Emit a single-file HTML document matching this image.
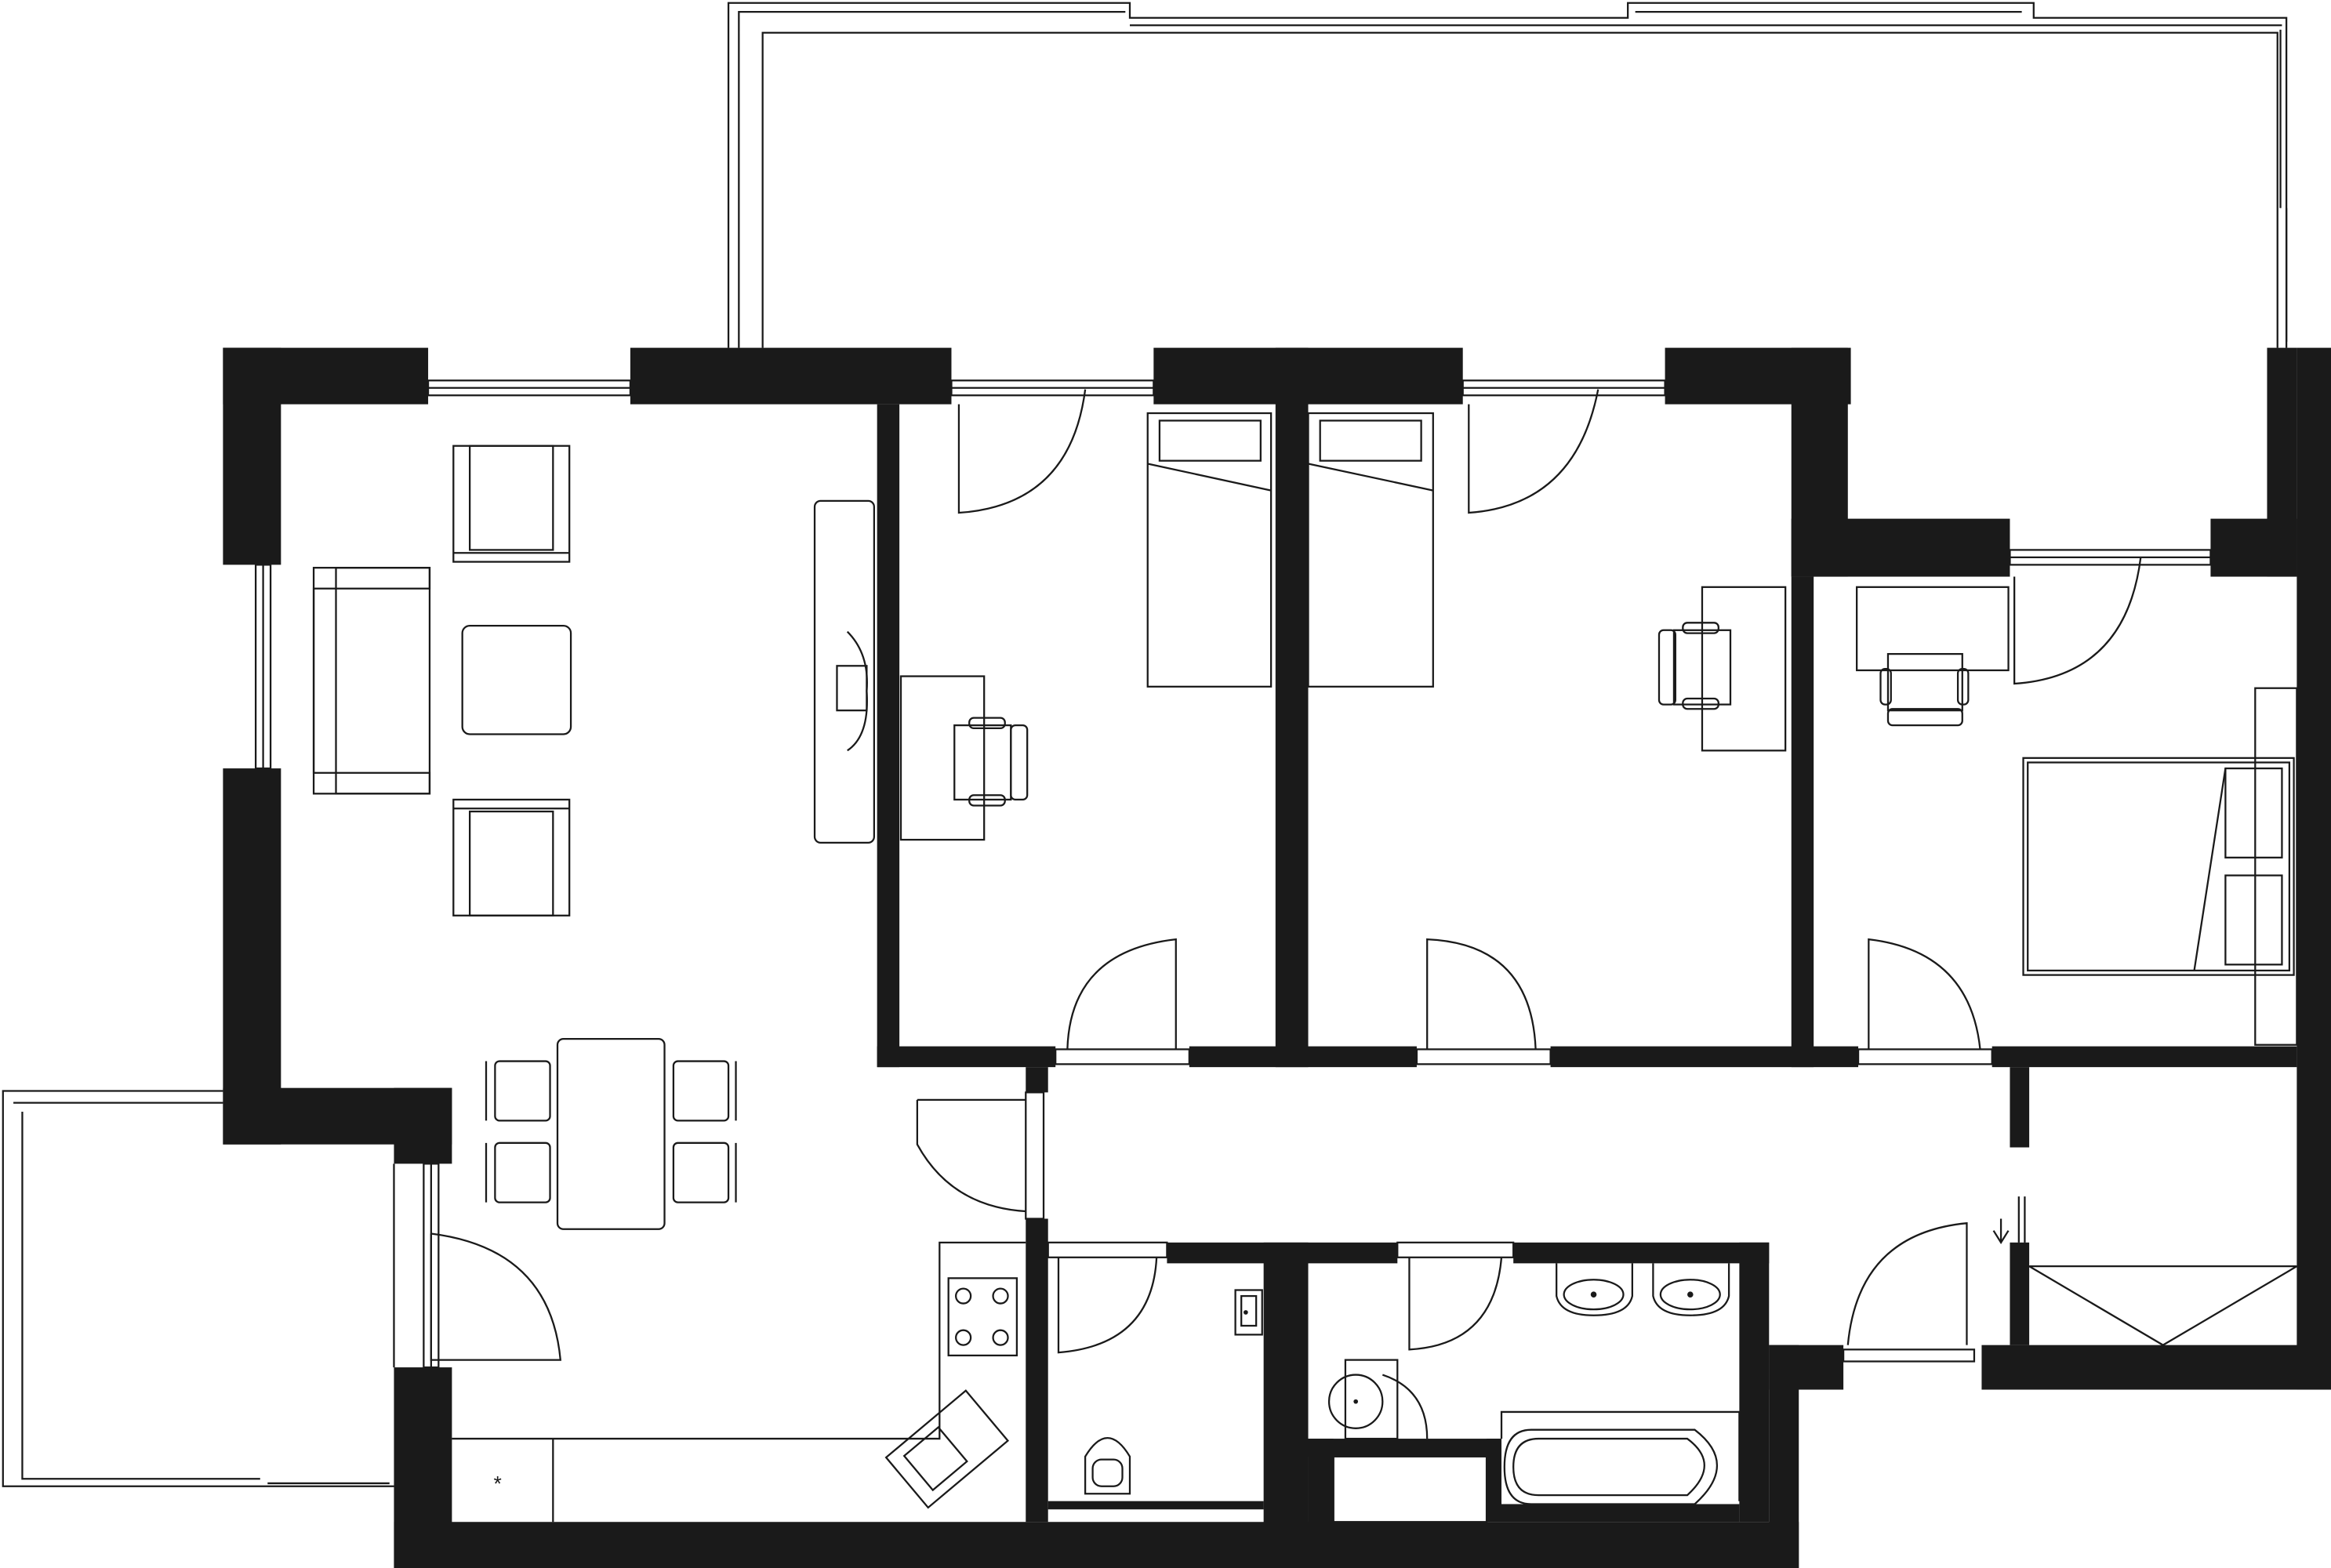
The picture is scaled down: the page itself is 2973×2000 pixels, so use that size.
<!DOCTYPE html>
<html><head><meta charset="utf-8"><style>html,body{margin:0;padding:0;background:#fff}svg{display:block}</style></head>
<body>
<svg width="2973" height="2000" viewBox="0 0 1568 1055" preserveAspectRatio="none" xmlns="http://www.w3.org/2000/svg">
<g fill="none" stroke="#1a1a1a" stroke-width="1.2">
<!-- top balcony -->
<path d="M490 234 V2 H760 V12 H1095 V2 H1368 V12 H1538 V234"/>
<path d="M497 234 V8 H757 M513 234 V22 H1532 V234 M760 17 H1535 M1100 8 H1360"/>
<path d="M1534 20 V140 M1538 140 V230"/>
<!-- left balcony -->
<path d="M150 734 H2 V1000 H265 M9 742 H150 M15 748 V995 H175 M180 998 H262"/>
<!-- windows -->
<rect x="288" y="256" width="136" height="10"/><line x1="288" y1="261" x2="424" y2="261"/>
<rect x="640" y="256" width="136" height="10"/><line x1="640" y1="261" x2="776" y2="261"/>
<rect x="984" y="256" width="136" height="10"/><line x1="984" y1="261" x2="1120" y2="261"/>
<rect x="1352" y="370" width="135" height="10"/><line x1="1352" y1="375" x2="1487" y2="375"/>
<rect x="172" y="380" width="10" height="137"/><line x1="177" y1="380" x2="177" y2="517"/>
<rect x="285" y="783" width="10" height="137"/><line x1="290" y1="783" x2="290" y2="920"/>
<line x1="265" y1="783" x2="265" y2="920"/>
<!-- doors -->
<rect x="710" y="706" width="90" height="10"/><rect x="953" y="706" width="90" height="10"/><rect x="1250" y="706" width="90" height="10"/>
<rect x="690" y="735" width="12" height="85"/><rect x="705" y="836" width="80" height="10"/><rect x="940" y="836" width="78" height="10"/><rect x="1240" y="908" width="88" height="8"/>
<path d="M645 272 V345 Q720 340 730 262"/>
<path d="M988 272 V345 Q1060 340 1075 262"/>
<path d="M1355 388 V460 Q1430 455 1440 375"/>
<path d="M791 706 V632 Q720 640 718 706"/>
<path d="M960 706 V632 Q1030 635 1033 706"/>
<path d="M1257 706 V632 Q1325 640 1332 706"/>
<path d="M617 740 H690 M617 740 V770 Q640 812 690 815"/>
<path d="M290 830 V915 H377 Q370 840 290 830"/>
<path d="M712 846 V910 Q775 905 778 846"/>
<path d="M948 846 V908 Q1005 905 1010 846"/>
<path d="M1323 905 V823 Q1250 830 1243 905"/>
<path d="M1358 805 V836 M1362 805 V836 M1346 820 L1346 836 M1341 828 L1346 836 L1351 828"/>
<!-- living -->
<rect x="305" y="300" width="78" height="78"/><rect x="316" y="300" width="56" height="70"/><line x1="305" y1="372" x2="383" y2="372"/>
<rect x="305" y="538" width="78" height="78"/><rect x="316" y="546" width="56" height="70"/><line x1="305" y1="544" x2="383" y2="544"/>
<rect x="211" y="382" width="78" height="152"/><rect x="211" y="396" width="15" height="124"/><rect x="226" y="382" width="63" height="14"/><rect x="226" y="520" width="63" height="14"/>
<rect x="311" y="421" width="73" height="73" rx="5"/>
<rect x="548" y="337" width="40" height="230" rx="4"/><rect x="563" y="448" width="20" height="30"/><path d="M570 425 Q585 440 583 465 Q585 495 570 505"/>
<!-- dining -->
<rect x="375" y="699" width="72" height="128" rx="4"/>
<rect x="333" y="714" width="37" height="40" rx="3"/><rect x="333" y="769" width="37" height="40" rx="3"/>
<rect x="453" y="714" width="37" height="40" rx="3"/><rect x="453" y="769" width="37" height="40" rx="3"/>
<line x1="327" y1="714" x2="327" y2="754"/><line x1="327" y1="769" x2="327" y2="809"/><line x1="495" y1="714" x2="495" y2="754"/><line x1="495" y1="769" x2="495" y2="809"/>
<!-- kitchen -->
<path d="M304 968 H632 V836 H690 M372 968 V1024"/>
<rect x="638" y="860" width="46" height="52"/>
<circle cx="648" cy="872" r="5"/><circle cx="673" cy="872" r="5"/><circle cx="648" cy="900" r="5"/><circle cx="673" cy="900" r="5"/>
<g transform="translate(637 975) rotate(-40)"><rect x="-35" y="-22" width="70" height="44"/><rect x="-25" y="-15" width="30" height="30"/></g>
<text x="332" y="1003" font-size="14" font-family="Liberation Sans, sans-serif" fill="#1a1a1a" stroke="none">*</text>
<!-- bedroom 1 -->
<rect x="772" y="278" width="83" height="184"/><rect x="780" y="283" width="68" height="27"/><line x1="772" y1="312" x2="855" y2="330"/>
<rect x="606" y="455" width="56" height="110"/><rect x="642" y="488" width="38" height="50"/><rect x="680" y="488" width="11" height="50" rx="3"/><rect x="652" y="483" width="24" height="7" rx="3"/><rect x="652" y="535" width="24" height="7" rx="3"/>
<!-- bedroom 2 -->
<rect x="880" y="278" width="84" height="184"/><rect x="888" y="283" width="68" height="27"/><line x1="880" y1="312" x2="964" y2="330"/>
<rect x="1145" y="395" width="56" height="110"/><rect x="1126" y="424" width="38" height="50"/><rect x="1116" y="424" width="11" height="50" rx="3"/><rect x="1132" y="419" width="24" height="7" rx="3"/><rect x="1132" y="470" width="24" height="7" rx="3"/>
<!-- master -->
<rect x="1249" y="395" width="102" height="56"/><rect x="1270" y="440" width="50" height="38"/><rect x="1270" y="477" width="50" height="11" rx="3"/><rect x="1265" y="450" width="7" height="24" rx="3"/><rect x="1317" y="450" width="7" height="24" rx="3"/>
<rect x="1361" y="510" width="182" height="146"/><rect x="1364" y="513" width="176" height="140"/><rect x="1497" y="517" width="38" height="60"/><rect x="1497" y="589" width="38" height="60"/><line x1="1497" y1="517" x2="1476" y2="653"/>
<rect x="1517" y="463" width="28" height="240"/>
<!-- storage -->
<path d="M1365 852 H1545 M1365 852 L1455 905 L1545 852"/>
<!-- wc -->
<rect x="831" y="868" width="18" height="30"/><rect x="835" y="872" width="10" height="20"/>
<path d="M730 1005 V980 Q745 955 760 980 V1005 Z"/><rect x="735" y="982" width="20" height="18" rx="6"/>
<line x1="705" y1="1015" x2="850" y2="1015"/>
<!-- bath -->
<rect x="905" y="915" width="35" height="53"/><circle cx="912" cy="943" r="18"/><path d="M930 925 Q960 935 960 968"/>
<path d="M1047 850 V872 Q1050 885 1072 885 Q1095 885 1098 872 V850"/><ellipse cx="1072" cy="871" rx="20" ry="10"/>
<path d="M1112 850 V872 Q1115 885 1137 885 Q1160 885 1163 872 V850"/><ellipse cx="1137" cy="871" rx="20" ry="10"/>
<path d="M1010 968 V950 H1170 V1010"/>
<path d="M1030 962 H1140 Q1170 985 1140 1012 H1030 Q1012 1012 1012 987 Q1012 962 1030 962Z"/>
<path d="M1035 968 H1135 Q1158 985 1135 1006 H1035 Q1018 1006 1018 987 Q1018 968 1035 968Z"/>
<rect x="897" y="980" width="103" height="44"/>
</g>
<g fill="#1a1a1a" stroke="none">
<circle cx="912" cy="943" r="1.5"/><circle cx="1072" cy="871" r="2"/><circle cx="1137" cy="871" r="2"/><circle cx="838" cy="883" r="1.5"/>
<rect x="150" y="234" width="138" height="38"/><rect x="150" y="234" width="39" height="146"/>
<rect x="424" y="234" width="216" height="38"/>
<rect x="776" y="234" width="208" height="38"/>
<rect x="1120" y="234" width="125" height="38"/>
<rect x="1205" y="234" width="38" height="154"/>
<rect x="1205" y="349" width="147" height="39"/>
<rect x="1487" y="349" width="58" height="39"/>
<rect x="1525" y="234" width="20" height="154"/>
<rect x="1545" y="234" width="23" height="701"/>
<rect x="150" y="517" width="39" height="253"/>
<rect x="150" y="732" width="154" height="38"/>
<rect x="265" y="732" width="39" height="51"/>
<rect x="265" y="920" width="39" height="135"/>
<rect x="265" y="1024" width="945" height="31"/>
<rect x="590" y="272" width="15" height="446"/>
<rect x="858" y="234" width="22" height="484"/>
<rect x="1205" y="388" width="15" height="330"/>
<rect x="590" y="704" width="120" height="14"/><rect x="800" y="704" width="153" height="14"/><rect x="1043" y="704" width="207" height="14"/><rect x="1340" y="704" width="205" height="14"/>
<rect x="690" y="718" width="15" height="17"/><rect x="690" y="820" width="15" height="204"/>
<rect x="705" y="836" width="0" height="0"/>
<rect x="785" y="836" width="155" height="14"/><rect x="1018" y="836" width="172" height="14"/>
<rect x="850" y="836" width="30" height="219"/>
<rect x="1170" y="836" width="20" height="188"/>
<rect x="1190" y="905" width="50" height="30"/><rect x="1190" y="905" width="20" height="150"/>
<rect x="1333" y="905" width="235" height="30"/>
<rect x="1352" y="718" width="13" height="54"/><rect x="1352" y="836" width="13" height="69"/>
<rect x="880" y="968" width="130" height="12"/><rect x="1000" y="968" width="10" height="56"/><rect x="880" y="968" width="17" height="87"/>
<rect x="705" y="1010" width="145" height="5"/>
<rect x="1010" y="1012" width="160" height="12"/>
</g>
</svg>
</body></html>
